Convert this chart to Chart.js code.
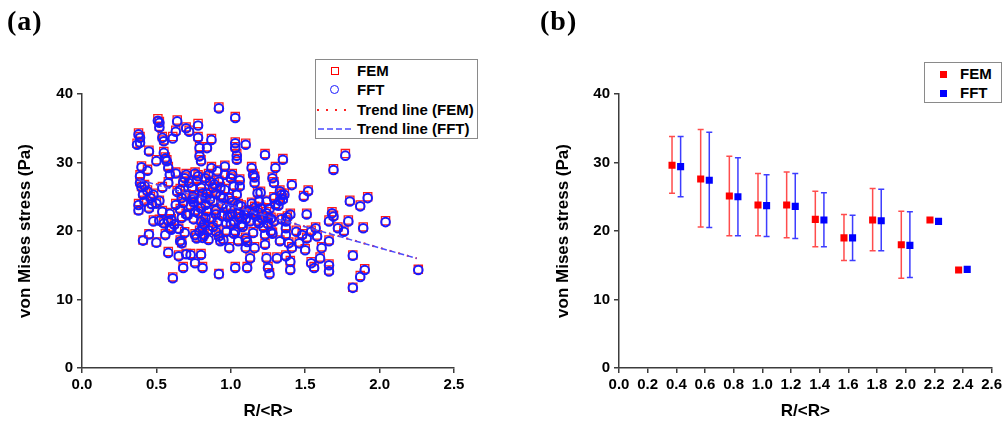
<!DOCTYPE html>
<html>
<head>
<meta charset="utf-8">
<script src="https://cdn.jsdelivr.net/npm/chart.js@4.4.1/dist/chart.umd.min.js"></script>
<style>
body { margin: 0; background: #fff; width: 1005px; height: 426px; position: relative; overflow: hidden; font-family: "Liberation Sans", Arial, sans-serif; }
canvas { position: absolute; top: 0; }
#chartA { left: 0; }
#chartB { left: 500px; }
.tag { position: absolute; font-family: "Liberation Serif", "Times New Roman", serif; font-weight: bold; font-size: 28px; letter-spacing: 1px; line-height: 28px; }
.legend { position: absolute; border: 1px solid #8a8a8a; background: #fff; font-weight: bold; font-size: 15px; color: #000; }
.row { position: absolute; height: 19px; line-height: 19px; white-space: nowrap; }
.sw { position: absolute; box-sizing: border-box; }
</style>
</head>
<body>
<canvas id="chartA" width="500" height="426"></canvas>
<canvas id="chartB" width="505" height="426"></canvas>

<div class="tag" style="left:7px; top:7px;">(a)</div>
<div class="tag" style="left:540px; top:7px;">(b)</div>

<div class="legend" style="left:315px; top:59px; width:161px; height:78px;">
  <div class="sw" style="left:15px; top:7px; width:8px; height:8px; border:1.5px solid #ff0000;"></div>
  <div class="row" style="left:41px; top:1px;">FEM</div>
  <div class="sw" style="left:14px; top:25px; width:9px; height:9px; border:1.5px solid #1a1aff; border-radius:50%;"></div>
  <div class="row" style="left:41px; top:20px;">FFT</div>
  <svg class="sw" style="left:0; top:44px;" width="40" height="12"><line x1="1" y1="6" x2="30" y2="6" stroke="#ff2020" stroke-width="2" stroke-dasharray="2 7"/></svg>
  <div class="row" style="left:41px; top:40px;">Trend line (FEM)</div>
  <svg class="sw" style="left:0; top:63px;" width="40" height="12"><line x1="2" y1="6" x2="37" y2="6" stroke="#4a4aff" stroke-width="1.5" stroke-dasharray="6 3"/></svg>
  <div class="row" style="left:41px; top:59px;">Trend line (FFT)</div>
</div>

<div class="legend" style="left:924px; top:62px; width:76px; height:39px;">
  <div class="sw" style="left:15px; top:8px; width:7px; height:7px; background:#ff0000;"></div>
  <div class="row" style="left:35px; top:1px;">FEM</div>
  <div class="sw" style="left:15px; top:27px; width:7px; height:7px; background:#0000ff;"></div>
  <div class="row" style="left:35px; top:20px;">FFT</div>
</div>

<script>
// panel (a): R/<R> of each grain and its von Mises stress
const ratio = [
  0.37,0.38,0.39,0.39,0.39,0.40,0.39,0.40,0.38,0.38,
  0.41,0.42,0.41,0.45,0.45,0.44,0.46,0.47,0.45,0.48,
  0.50,0.50,0.51,0.52,0.52,0.54,0.55,0.55,0.56,0.54,
  0.54,0.52,0.56,0.57,0.58,0.59,0.58,0.58,0.59,0.60,
  0.58,0.61,0.61,0.63,0.64,0.63,0.65,0.65,0.66,0.67,
  0.68,0.66,0.67,0.68,0.69,0.70,0.70,0.72,0.70,0.70,
  0.73,0.74,0.75,0.75,0.76,0.76,0.77,0.76,0.78,0.78,
  0.79,0.79,0.80,0.78,0.80,0.81,0.80,0.81,0.79,0.82,
  0.80,0.81,0.83,0.83,0.84,0.83,0.84,0.85,0.86,0.87,
  0.85,0.87,0.88,0.90,0.88,0.90,0.90,0.92,0.92,0.91,
  0.92,0.93,0.93,0.94,0.95,0.96,0.96,0.97,0.97,0.99,
  1.00,1.01,1.02,1.00,1.01,1.02,1.03,1.03,1.03,1.04,
  1.04,1.03,1.03,1.05,1.05,1.06,1.06,1.07,1.10,1.10,
  1.10,1.11,1.11,1.13,1.14,1.15,1.16,1.16,1.18,1.19,
  1.15,1.18,1.16,1.20,1.23,1.23,1.23,1.24,1.25,1.26,
  1.24,1.25,1.28,1.29,1.29,1.30,1.27,1.30,1.31,1.33,
  1.34,1.35,1.35,1.33,1.37,1.37,1.37,1.40,1.40,1.40,
  1.41,1.41,1.44,1.46,1.48,1.49,1.50,1.51,1.52,1.51,
  1.54,1.54,1.56,1.57,1.58,1.60,1.61,1.66,1.66,1.66,
  1.66,1.68,1.69,1.69,1.72,1.76,1.77,1.79,1.80,1.82,
  1.82,1.87,1.87,1.89,1.90,1.92,2.04,2.26,
  0.72,0.74,0.77,0.78,0.80,0.82,0.84,0.86,0.87,0.89,
  0.90,0.91,0.93,0.94,0.96,0.97,0.99,1.00,1.01,1.04,
  1.05,1.07,1.08,1.09,1.12,1.13,1.14,1.17,1.18,1.19,
  1.20,1.21,1.22,1.24,1.25,1.26,1.27,1.28,1.29,1.32,
  1.33,1.34,1.36,1.37,1.38,1.39,0.68,0.70,0.71,0.73,
  0.75,0.76,0.79,0.81,0.83,0.85,0.88,0.92,0.95,0.98,
  1.02,1.06,1.10,1.11,1.15,1.16,0.62,0.63,0.64,0.66,
  0.67,0.69,0.60,0.59,0.55,0.52,0.48,0.50,0.44,0.42
];
const femStress = [
  32.8,34.3,33.8,33.0,28.2,29.5,27.2,26.5,24.0,23.1,
  25.5,24.5,18.7,31.8,19.6,26.0,25.0,24.0,23.5,21.6,
  18.4,30.4,36.4,36.0,35.3,33.8,33.3,31.6,30.8,26.5,
  23.0,24.5,19.6,30.4,29.4,28.4,27.2,21.6,20.6,21.8,
  17.0,13.3,33.8,34.7,36.2,24.0,20.4,16.5,26.2,25.0,
  24.3,18.7,18.3,14.8,27.9,28.4,35.2,34.7,22.6,16.7,
  16.7,26.5,25.2,24.3,23.0,19.6,19.1,15.5,35.7,33.8,
  32.3,31.1,30.4,28.2,26.5,25.7,21.6,20.6,20.1,19.6,
  16.7,14.8,25.0,24.0,23.0,22.1,32.3,28.4,27.4,29.4,
  18.9,33.5,26.5,25.7,24.5,22.6,20.1,38.1,13.8,28.9,
  27.4,26.5,18.7,24.0,25.0,29.6,28.4,21.3,20.1,17.7,
  27.9,28.4,26.7,23.5,22.6,21.6,36.7,33.0,32.3,31.3,
  30.6,14.8,20.1,18.7,24.0,26.7,22.1,21.1,32.8,19.1,
  17.7,14.8,23.0,16.2,29.4,28.4,28.0,27.2,25.7,24.5,
  22.6,21.6,17.7,23.5,31.3,19.6,18.2,16.2,14.8,13.9,
  22.8,22.1,27.9,27.2,25.0,24.0,20.1,29.4,16.2,26.0,
  25.5,24.8,30.6,18.7,21.6,20.6,16.5,22.6,15.7,14.5,
  26.9,17.7,20.1,18.4,19.6,25.2,17.4,22.6,26.0,19.1,
  20.1,15.5,14.8,20.6,19.4,16.2,17.7,18.7,21.6,15.2,
  14.3,22.8,22.3,29.1,20.6,20.1,31.3,21.6,24.5,16.5,
  11.8,23.8,13.5,20.6,14.5,25.0,21.5,14.4,
  27.2,24.8,27.5,22.8,23.5,21.2,25.6,24.8,22.0,27.0,
  23.2,21.5,25.3,22.4,26.2,23.6,25.0,21.2,24.4,25.5,
  22.7,23.8,20.8,22.6,23.1,21.6,24.2,22.4,23.0,21.3,
  25.8,22.0,20.7,24.5,21.2,23.4,22.0,19.8,21.6,23.9,
  24.6,21.9,25.5,19.6,22.2,18.4,27.3,25.4,22.5,23.8,
  21.9,28.6,24.8,19.2,27.9,20.3,20.8,19.4,18.9,22.2,
  19.8,27.6,21.9,18.6,19.9,23.6,21.1,28.6,25.9,23.3,
  22.1,19.9,20.4,22.7,21.3,21.7,25.5,24.2,29.0,26.8
];
const fftStress = [
  32.6,34.1,33.6,32.9,28.0,29.3,27.0,26.4,23.8,23.0,
  25.3,24.3,18.6,31.6,19.5,25.8,24.8,23.9,23.3,21.4,
  18.3,30.2,36.1,35.8,35.1,33.6,33.1,31.4,30.6,26.3,
  22.8,24.4,19.4,30.2,29.2,28.2,27.0,21.5,20.4,21.6,
  16.8,13.1,33.5,34.5,36.0,23.8,20.3,16.3,26.0,24.8,
  24.1,18.5,18.2,14.6,27.7,28.2,35.0,34.5,22.4,16.6,
  16.5,26.3,25.0,24.2,22.8,19.4,18.9,15.3,35.4,33.6,
  32.1,30.9,30.2,28.0,26.3,25.5,21.4,20.5,19.9,19.4,
  16.5,14.6,24.8,23.8,22.9,21.9,32.1,28.2,27.2,29.2,
  18.7,33.3,26.3,25.5,24.3,22.4,19.9,37.9,13.7,28.7,
  27.2,26.3,18.5,23.8,24.8,29.4,28.2,21.1,19.9,17.5,
  27.7,28.2,26.5,23.3,22.4,21.4,36.5,32.8,32.1,31.0,
  30.4,14.6,19.9,18.5,23.8,26.5,21.9,20.9,32.6,18.9,
  17.5,14.6,22.8,16.0,29.2,28.2,27.8,27.0,25.5,24.3,
  22.4,21.4,17.5,23.3,31.1,19.4,18.0,16.0,14.6,13.7,
  22.6,21.9,27.7,27.0,24.8,23.8,19.9,29.2,16.0,25.8,
  25.3,24.6,30.4,18.5,21.4,20.4,16.3,22.4,15.5,14.3,
  26.7,17.5,19.9,18.2,19.4,25.0,17.2,22.4,25.8,18.9,
  19.9,15.3,14.6,20.4,19.2,16.0,17.5,18.5,21.4,15.0,
  14.1,22.6,22.1,28.9,20.4,19.9,31.0,21.4,24.3,16.4,
  11.7,23.6,13.3,20.4,14.3,24.8,21.3,14.3,
  27.0,24.6,27.3,22.6,23.3,21.0,25.4,24.6,21.8,26.8,
  23.0,21.3,25.1,22.2,26.0,23.4,24.8,21.0,24.2,25.3,
  22.5,23.6,20.6,22.4,22.9,21.4,24.0,22.2,22.8,21.1,
  25.6,21.8,20.5,24.3,21.0,23.2,21.8,19.6,21.4,23.7,
  24.4,21.7,25.3,19.4,22.0,18.2,27.1,25.2,22.3,23.6,
  21.7,28.4,24.6,19.0,27.7,20.1,20.6,19.2,18.7,22.0,
  19.6,27.4,21.7,18.4,19.7,23.4,20.9,28.4,25.7,23.1,
  21.9,19.7,20.2,22.5,21.1,21.5,25.3,24.0,28.8,26.6
];
const trendX = [0.38, 2.25];
const femTrend = [27.6, 16.0];
const fftTrend = [27.5, 16.0];

// panel (b): binned means with spread
const femX = [0.37, 0.57, 0.77, 0.97, 1.17, 1.37, 1.57, 1.77, 1.97, 2.17, 2.37];
const fftX = [0.43, 0.63, 0.83, 1.03, 1.23, 1.43, 1.63, 1.83, 2.03, 2.23, 2.43];
const femMean = [29.6, 27.6, 25.1, 23.8, 23.8, 21.7, 19.0, 21.6, 18.0, 21.6, 14.3];
const femHigh = [33.8, 34.8, 30.9, 28.4, 28.6, 25.8, 22.4, 26.2, 22.9, null, null];
const femLow  = [25.5, 20.6, 19.3, 19.3, 19.0, 17.7, 15.7, 17.1, 13.1, null, null];
const fftMean = [29.4, 27.4, 25.0, 23.7, 23.6, 21.6, 19.0, 21.5, 17.9, 21.4, 14.4];
const fftHigh = [33.8, 34.4, 30.7, 28.2, 28.4, 25.6, 22.3, 26.1, 22.8, null, null];
const fftLow  = [25.0, 20.5, 19.3, 19.2, 18.9, 17.7, 15.7, 17.1, 13.2, null, null];

const yTicks = [0, 10, 20, 30, 40];

const axisColor = '#3c3c3c';
const fontFam = '"Liberation Sans", Arial, sans-serif';
const tickFont = {family: fontFam, size: 15, weight: 'bold'};
const titleFont = {family: fontFam, size: 17, weight: 'bold'};

function pts(xs, ys) {
    return xs.map((v, i) => ({x: v, y: ys[i]}));
}

function xAxis(max, step, h) {
    return {
        type: 'linear', min: 0, max: max,
        grid: {display: true, drawOnChartArea: false, drawTicks: true, tickLength: 5, color: axisColor, lineWidth: 1.5},
        border: {display: true, color: axisColor, width: 1.5},
        ticks: {stepSize: step, color: '#000', font: tickFont, padding: 3, maxRotation: 0, autoSkip: false,
                callback: v => v.toFixed(1)},
        title: {display: true, text: 'R/<R>', color: '#000', font: titleFont, padding: {top: 0, bottom: 4}},
        afterFit: s => { s.height = h; }
    };
}

function yAxis(w, titlePad) {
    return {
        type: 'linear', min: 0, max: 40,
        grid: {display: true, drawOnChartArea: false, drawTicks: true, tickLength: 5, color: axisColor, lineWidth: 1.5},
        border: {display: true, color: axisColor, width: 1.5},
        ticks: {stepSize: 10, color: '#000', font: tickFont, padding: 4},
        afterBuildTicks: s => { s.ticks = yTicks.map(v => ({value: v})); },
        title: {display: true, text: 'von Mises stress (Pa)', color: '#000', font: titleFont, padding: {top: titlePad, bottom: 0}},
        afterFit: s => { s.width = w; }
    };
}

// whiskers for panel (b)
const errorBars = {
    id: 'errorBars',
    beforeDatasetsDraw(chart) {
        const ctx = chart.ctx;
        const x = chart.scales.x, y = chart.scales.y;
        const sets = [[femX, femLow, femHigh, '#ff4d4d'], [fftX, fftLow, fftHigh, '#3d3dff']];
        ctx.save();
        ctx.lineWidth = 1.5;
        sets.forEach(function (s) {
            ctx.strokeStyle = s[3];
            s[0].forEach(function (v, i) {
                if (s[1][i] == null) return;
                const px = x.getPixelForValue(v);
                const lo = y.getPixelForValue(s[1][i]);
                const hi = y.getPixelForValue(s[2][i]);
                ctx.beginPath();
                ctx.moveTo(px, lo); ctx.lineTo(px, hi);
                ctx.moveTo(px - 3, lo); ctx.lineTo(px + 3, lo);
                ctx.moveTo(px - 3, hi); ctx.lineTo(px + 3, hi);
                ctx.stroke();
            });
        });
        ctx.restore();
    }
};

new Chart(document.getElementById('chartA'), {
    type: 'scatter',
    data: {
        datasets: [
            {label: 'Trend line (FFT)', data: pts(trendX, fftTrend), showLine: true, borderColor: '#4a4aff',
             borderWidth: 1.5, borderDash: [6, 3], pointRadius: 0, order: 0},
            {label: 'Trend line (FEM)', data: pts(trendX, femTrend), showLine: true, borderColor: '#ff2020',
             borderWidth: 2, borderDash: [2, 7], pointRadius: 0, order: 1},
            {label: 'FFT', data: pts(ratio, fftStress), pointStyle: 'circle', pointRadius: 4.3,
             borderColor: '#1a1aff', borderWidth: 2, backgroundColor: 'transparent', order: 2},
            {label: 'FEM', data: pts(ratio, femStress), pointStyle: 'rect', pointRadius: 5.8,
             borderColor: '#ff1a1a', borderWidth: 1.3, backgroundColor: 'transparent', order: 3}
        ]
    },
    options: {
        responsive: false,
        animation: false,
        layout: {padding: {left: 0, top: 94, right: 46, bottom: 0}},
        plugins: {legend: {display: false}, tooltip: {enabled: false}},
        scales: {x: xAxis(2.5, 0.5, 58), y: yAxis(82, 15)}
    }
});

new Chart(document.getElementById('chartB'), {
    type: 'scatter',
    data: {
        datasets: [
            {label: 'FEM', data: pts(femX, femMean), pointStyle: 'rect', pointRadius: 5,
             backgroundColor: '#ff0000', borderColor: '#ff0000', borderWidth: 0},
            {label: 'FFT', data: pts(fftX, fftMean), pointStyle: 'rect', pointRadius: 5,
             backgroundColor: '#0000ff', borderColor: '#0000ff', borderWidth: 0}
        ]
    },
    options: {
        responsive: false,
        animation: false,
        layout: {padding: {left: 0, top: 94, right: 13, bottom: 0}},
        plugins: {legend: {display: false}, tooltip: {enabled: false}},
        scales: {x: xAxis(2.6, 0.2, 58), y: yAxis(119, 53)}
    },
    plugins: [errorBars]
});
</script>
</body>
</html>
